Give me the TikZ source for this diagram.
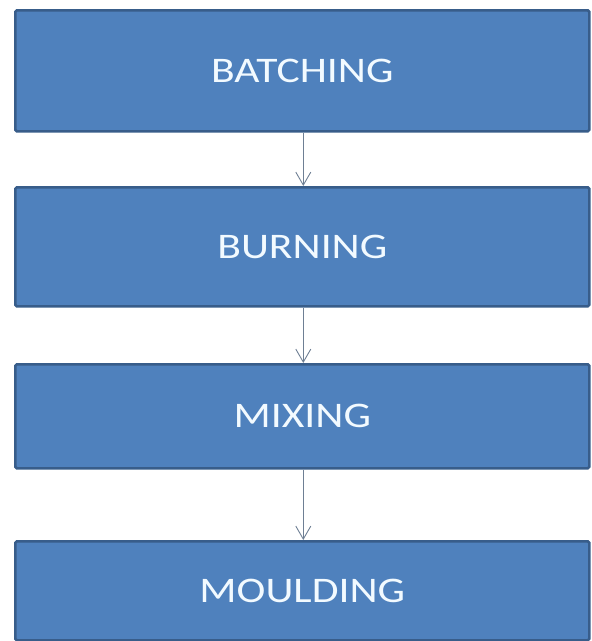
\documentclass[tikz,border=0pt]{standalone}
\usepackage{fontspec}
\setmainfont{Carlito}
\newfontfamily\boxfont[FakeStretch=1.21]{Carlito}
\usetikzlibrary{arrows.meta}
\definecolor{boxfill}{HTML}{4F81BD}
\definecolor{boxline}{HTML}{385D8A}
\definecolor{arrowcol}{HTML}{6E7F94}
\definecolor{txtcol}{HTML}{F2FAFF}
\begin{document}
\begin{tikzpicture}[x=1pt,y=-1pt,
  stepbox/.style={draw=boxline,fill=boxfill,line width=2.6pt,rounded corners=1.5pt,
    minimum width=574pt,anchor=north west,inner sep=0pt,
    text=txtcol,font=\boxfont\fontsize{36}{40}\selectfont},
  flow/.style={draw=arrowcol,line width=0.9pt,-{Straight Barb[length=13pt,width=15pt,line width=0.9pt]}}]
\useasboundingbox (0,0) rectangle (592,641);
\node[stepbox,minimum height=121pt] (b1) at (14,9) {BATCHING};
\node[stepbox,minimum height=119pt] (b2) at (14,186) {BURNING};
\node[stepbox,minimum height=104pt] (b3) at (14,363) {MIXING};
\node[stepbox,minimum height=99pt] (b4) at (14,540) {MOULDING};
\draw[flow] ([xshift=1pt]b1.south) -- ([xshift=1pt]b2.north);
\draw[flow] ([xshift=1pt]b2.south) -- ([xshift=1pt]b3.north);
\draw[flow] ([xshift=1pt]b3.south) -- ([xshift=1pt]b4.north);
\end{tikzpicture}
\end{document}
